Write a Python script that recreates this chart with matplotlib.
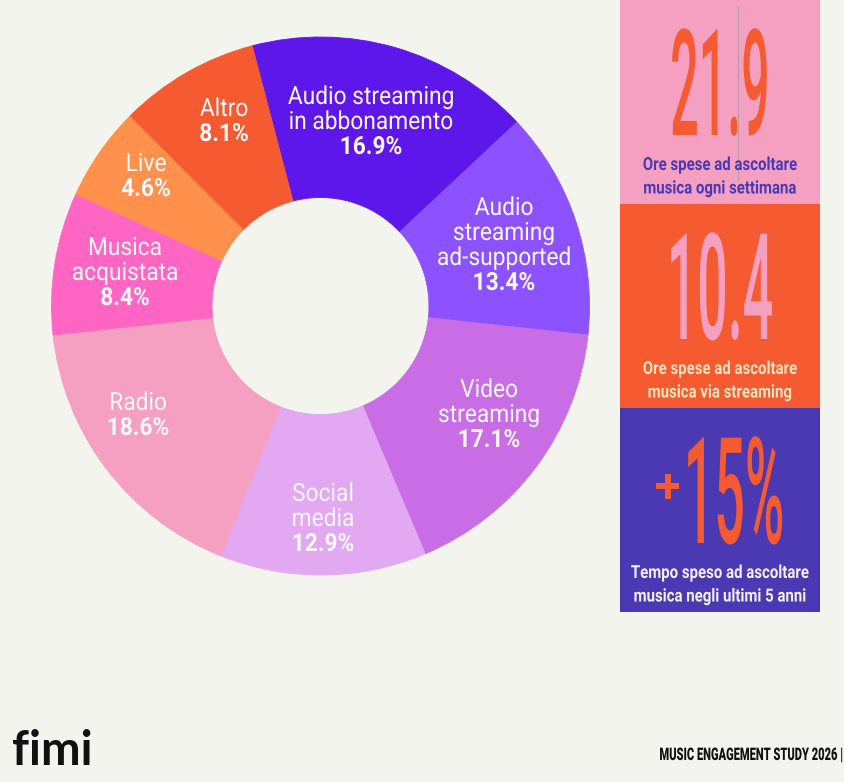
import matplotlib
matplotlib.use('Agg')
import matplotlib.pyplot as plt
from matplotlib import patheffects
from matplotlib.patches import Rectangle
from matplotlib.transforms import Affine2D

W, H = 844, 782
BG = '#F4F4EF'

# dati del grafico
categories = ['Audio streaming\nin abbonamento', 'Audio\nstreaming\nad-supported',
              'Video\nstreaming', 'Social\nmedia', 'Radio', 'Musica\nacquistata',
              'Live', 'Altro']
# percentuali stampate sulle fette
printed_pct = [16.9, 13.4, 17.1, 12.9, 18.6, 8.4, 4.6, 8.1]
# ampiezza delle fette come disegnate nell'originale (gradi)
arc_deg = [61.6, 49.3, 60.9, 44.6, 62.1, 30.8, 20.4, 30.3]
slice_colors = ['#5D17EA', '#8C52FF', '#C86DE6', '#E2A8F2', '#F59FC1',
                '#FF66C4', '#FF914D', '#F55A30']

stat_values = ['21.9', '10.4', '15%']
stat_captions = ['Ore spese ad ascoltare\nmusica ogni settimana',
                 'Ore spese ad ascoltare\nmusica via streaming',
                 'Tempo speso ad ascoltare\nmusica negli ultimi 5 anni']
box_colors = ['#F59FC1', '#F55A30', '#4B38B3']
number_colors = ['#F55A30', '#F59FC1', '#F55A30']
caption_colors = ['#4B38B3', '#FBE3BE', '#F4F0F6']


class Squeeze(patheffects.AbstractPathEffect):
    # stringe/allunga il testo attorno al suo punto di ancoraggio
    def __init__(self, x, y, sx, sy=1.0):
        super().__init__()
        self.t = Affine2D().translate(-x, -y).scale(sx, sy).translate(x, y)

    def draw_path(self, renderer, gc, tpath, affine, rgbFace=None):
        renderer.draw_path(gc, tpath, affine + self.t, rgbFace)


def label(ax, x, py, s, size, color, weight='normal', sx=0.91, sy=1.0,
          ha='center', family='Roboto'):
    y = H - py
    ax.text(x, y, s, fontsize=size, color=color, fontweight=weight,
            family=family, ha=ha, va='baseline',
            path_effects=[Squeeze(x, y, sx, sy)])


fig = plt.figure(figsize=(W / 100, H / 100), dpi=100, facecolor=BG)
ax = fig.add_axes([0, 0, 1, 1])
ax.set_facecolor(BG)

R, r_in = 269, 108.5
wedges, _ = ax.pie(arc_deg, colors=slice_colors, startangle=104.7, counterclock=False,
                   center=(320.5, H - 306), radius=R,
                   wedgeprops=dict(width=R - r_in, linewidth=0.6))
for w in wedges:
    w.set_edgecolor(w.get_facecolor())

ax.set_xlim(0, W)
ax.set_ylim(0, H)
ax.set_aspect('auto')
ax.axis('off')

# posizione etichette: centro x, baseline della prima riga (pixel dall'alto)
label_pos = [(371, 104), (504, 215), (489, 397), (323, 501),
             (138, 410), (125, 255), (146, 171), (224, 116)]
txt = '#FCF7F8'
for cat, val, (x, py) in zip(categories, printed_pct, label_pos):
    lines = cat.split('\n')
    for k, ln in enumerate(lines):
        label(ax, x, py + 25 * k, ln, 18, txt)
    label(ax, x, py + 25 * len(lines), f'{val:.1f}%', 18, txt, weight='bold')

# pannello a destra
for i, c in enumerate(box_colors):
    ax.add_patch(Rectangle((620, H - 204 * (i + 1)), 200, 204, color=c, lw=0))
ax.plot([738, 738], [H - 7, H - 180], color='#B89AA8', lw=0.8)

num_x = [720, 720, 734]
num_sx = [0.84, 0.9, 0.9]
for i, v in enumerate(stat_values):
    label(ax, num_x[i], 135 + 204 * i, v, 43, number_colors[i],
          weight='medium', sx=num_sx[i], sy=2.48)
label(ax, 668, 502, '+', 34, number_colors[2], weight='bold', sx=1.0)

for i, cap in enumerate(stat_captions):
    for k, ln in enumerate(cap.split('\n')):
        label(ax, 720, 170 + 204 * i + 23.5 * k, ln, 13, caption_colors[i],
              weight='bold', sx=0.83)

# piè di pagina
ax.text(12, H - 765, 'fimi', fontsize=34, fontweight='bold', family='Lato',
        color='#111111', ha='left', va='baseline')
label(ax, 844, 760, 'MUSIC ENGAGEMENT STUDY 2026 |', 12.5, '#111111',
      weight='black', sx=0.64, ha='right')

fig.savefig('out.png', dpi=100, facecolor=BG)
